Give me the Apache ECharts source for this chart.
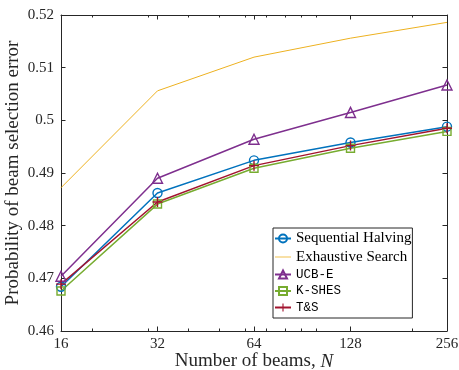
<!DOCTYPE html>
<html><head><meta charset="utf-8">
<script src="https://cdn.jsdelivr.net/npm/echarts@6/dist/echarts.min.js"></script>
<style>html,body{margin:0;padding:0;background:#fff}#c{width:459px;height:370px}</style>
</head><body><div id="c"></div>
<script>
const beams = [16, 32, 64, 128, 256];
const minorTicks = [20, 30, 40, 50, 60, 70, 80, 90, 100, 200];
const yTicks = [0.46, 0.47, 0.48, 0.49, 0.50, 0.51, 0.52];
const seqHalving = [0.4684, 0.4862, 0.4924, 0.4958, 0.4988];
const exhaustive = [0.4872, 0.5056, 0.5120, 0.5156, 0.5186];
const ucbE = [0.4704, 0.4890, 0.4964, 0.5015, 0.5067];
const kShes = [0.4676, 0.4841, 0.4909, 0.4947, 0.4979];
const tAndS = [0.4689, 0.4845, 0.4914, 0.4952, 0.4985];

const serif = '"Liberation Serif", "DejaVu Serif", serif';
const mono = '"Liberation Mono", "DejaVu Sans Mono", monospace';
const axisCol = '#262626';
const pair = arr => beams.map((b, i) => [b, arr[i]]);
const plus = 'path://M4.3,0h1.4v4.3h4.3v1.4h-4.3v4.3h-1.4v-4.3h-4.3v-1.4h4.3z';

function xAx(pos, minor, labels) {
  return {
    type: 'log', logBase: 2, min: 16, max: 256, position: pos,
    axisLine: { show: !minor, lineStyle: { color: axisCol, width: 1 } },
    axisTick: { show: true, inside: true, length: minor ? 2.5 : 4.5,
      customValues: minor ? minorTicks : beams, lineStyle: { color: axisCol } },
    axisLabel: { show: labels, customValues: beams, color: axisCol, fontFamily: serif, fontSize: 15, margin: 6 },
    splitLine: { show: false },
    name: labels ? 'Number of beams, {i|N}' : '',
    nameLocation: 'middle', nameGap: 21, nameMoveOverlap: false,
    nameTextStyle: { color: axisCol, fontFamily: serif, fontSize: 19,
      rich: { i: { fontStyle: 'italic', fontFamily: serif, fontSize: 19, color: axisCol } } }
  };
}
function yAx(pos, labels) {
  return {
    type: 'value', min: 0.46, max: 0.52, interval: 0.01, position: pos,
    axisLine: { show: true, lineStyle: { color: axisCol, width: 1 } },
    axisTick: { show: true, inside: true, length: 4.5, lineStyle: { color: axisCol } },
    axisLabel: { show: labels, color: axisCol, fontFamily: serif, fontSize: 15, margin: 7 },
    splitLine: { show: false },
    name: labels ? 'Probability of beam selection error' : '',
    nameLocation: 'middle', nameGap: 38, nameMoveOverlap: false,
    nameTextStyle: { color: axisCol, fontFamily: serif, fontSize: 19 }
  };
}
function line(name, data, color, symbol, size, width, fill) {
  return {
    name, type: 'line', data: pair(data), xAxisIndex: 0, yAxisIndex: 0,
    symbol, symbolSize: size, showSymbol: symbol !== 'none',
    lineStyle: { color, width },
    itemStyle: { color: fill ? color : 'rgba(255,255,255,0)', borderColor: color, borderWidth: fill ? 0 : 1.4 },
    emphasis: { disabled: true }, animation: false, z: 3
  };
}

const chart = echarts.init(document.getElementById('c'), null, { renderer: 'canvas' });
chart.setOption({
  animation: false,
  grid: { left: 61, right: 12, top: 15, bottom: 39, containLabel: false, outerBoundsMode: 'none' },
  xAxis: [xAx('bottom', false, true), xAx('bottom', true, false), xAx('top', false, false), xAx('top', true, false)],
  yAxis: [yAx('left', true), yAx('right', false)],
  legend: {
    left: 273, top: 228, orient: 'vertical', itemWidth: 16, itemHeight: 10, itemGap: 3.5,
    padding: [3, 1, 4, 1],
    backgroundColor: '#fff', borderColor: axisCol, borderWidth: 1,
    textStyle: { fontFamily: serif, fontSize: 15, lineHeight: 12, color: '#000',
      rich: { m: { fontFamily: mono, fontSize: 12.5, lineHeight: 12, color: '#000' } } },
    formatter: n => (n === 'UCB-E' || n === 'K-SHES' || n === 'T&S') ? '{m|' + n + '}' : n,
    data: ['Sequential Halving',
      { name: 'Exhaustive Search', icon: 'path://M0,4.6h16v0.8h-16z', itemStyle: { color: '#EDB120', borderWidth: 0 } },
      'UCB-E', 'K-SHES', 'T&S']
  },
  series: [
    line('Sequential Halving', seqHalving, '#0072BD', 'circle', 9, 1.5, false),
    line('Exhaustive Search', exhaustive, '#EDB120', 'none', 0, 1, false),
    line('UCB-E', ucbE, '#7E2F8E', 'triangle', 10, 1.5, false),
    line('K-SHES', kShes, '#77AC30', 'rect', 8, 1.5, false),
    line('T&S', tAndS, '#A2142F', plus, 10, 1.5, true)
  ]
});
</script></body></html>
